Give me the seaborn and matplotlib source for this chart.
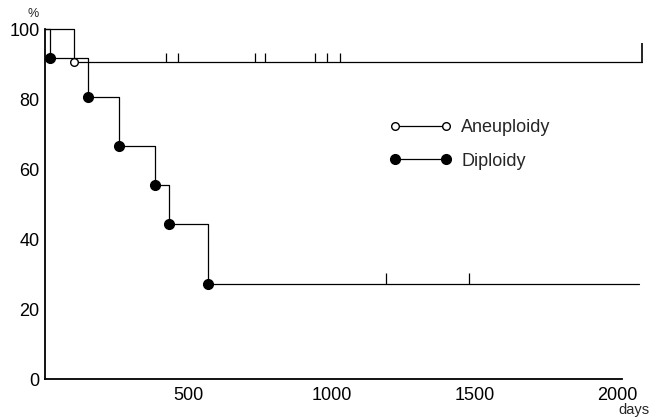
import matplotlib
matplotlib.use("Agg")
import matplotlib.pyplot as plt
from matplotlib.lines import Line2D
import pandas as pd
import seaborn as sns

# Kaplan-Meier style survival curves (days, % surviving)
aneu_days = [0, 101, 2084]
aneu_surv = [100, 90.6, 90.6]
aneu_censor = [423, 465, 734, 769, 944, 983, 1031]

dipl_days = [0, 17, 150, 259, 385, 434, 570, 2073]
dipl_surv = [100, 91.7, 80.6, 66.6, 55.4, 44.3, 27.1, 27.1]
dipl_censor = [1192, 1479]

x_ticks = [500, 1000, 1500, 2000]
y_ticks = [0, 20, 40, 60, 80, 100]

sns.set_style("white")
plt.rcParams["font.family"] = ["Liberation Sans", "DejaVu Sans"]

fig = plt.figure(figsize=(6.64, 4.2), dpi=100)
ax = fig.add_axes([0.0678, 0.0976, 0.869, 0.833])

aneu = pd.DataFrame({"days": aneu_days, "surv": aneu_surv})
dipl = pd.DataFrame({"days": dipl_days, "surv": dipl_surv})

sns.lineplot(data=aneu, x="days", y="surv", drawstyle="steps-post", color="black",
             lw=0.9, estimator=None, sort=False, ax=ax, clip_on=False)
sns.lineplot(data=dipl, x="days", y="surv", drawstyle="steps-post", color="black",
             lw=0.9, estimator=None, sort=False, ax=ax, clip_on=False)

# event markers (skip start and end points)
ax.plot(aneu_days[1:-1], aneu_surv[1:-1], "o", mfc="white", mec="black", mew=1.0,
        ms=5.5, clip_on=False, zorder=5)
ax.plot(dipl_days[1:-1], dipl_surv[1:-1], "o", color="black", ms=7,
        clip_on=False, zorder=5)

# censoring ticks
ax.vlines(aneu_censor, aneu_surv[-1], aneu_surv[-1] + 2.6, color="black", lw=0.9)
ax.vlines([aneu_days[-1]], aneu_surv[-1], aneu_surv[-1] + 5.4, color="black", lw=1.2,
          clip_on=False)
ax.vlines(dipl_censor, dipl_surv[-1], dipl_surv[-1] + 3.1, color="black", lw=0.9)

ax.set_xlim(0, 2015)
ax.set_ylim(0, 100)
ax.set_xticks(x_ticks)
ax.set_yticks(y_ticks)
ax.tick_params(length=0, labelsize=13, colors="black")
ax.tick_params(axis="x", pad=6)
ax.tick_params(axis="y", pad=4)
ax.set_xlabel("")
ax.set_ylabel("")
for s in ["top", "right"]:
    ax.spines[s].set_visible(False)
for s in ["left", "bottom"]:
    ax.spines[s].set_color("black")
    ax.spines[s].set_linewidth(1.3)

fig.text(0.05, 0.967, "%", fontsize=9, ha="center", va="center")
fig.text(0.955, 0.024, "days", fontsize=10.5, ha="center", va="center")

handles = [
    Line2D([], [], color="black", lw=0.9, marker="o", mfc="white", mec="black",
           mew=1.0, ms=5.5),
    Line2D([], [], color="black", lw=0.9, marker="o", mfc="black", ms=7),
]
ax.legend(handles, ["Aneuploidy", "Diploidy"], numpoints=2, frameon=False,
          fontsize=13, handlelength=3.4, handletextpad=0.58, labelspacing=0.9,
          loc="center left", bbox_to_anchor=(0.569, 0.67))

fig.savefig("out.png", dpi=100)
